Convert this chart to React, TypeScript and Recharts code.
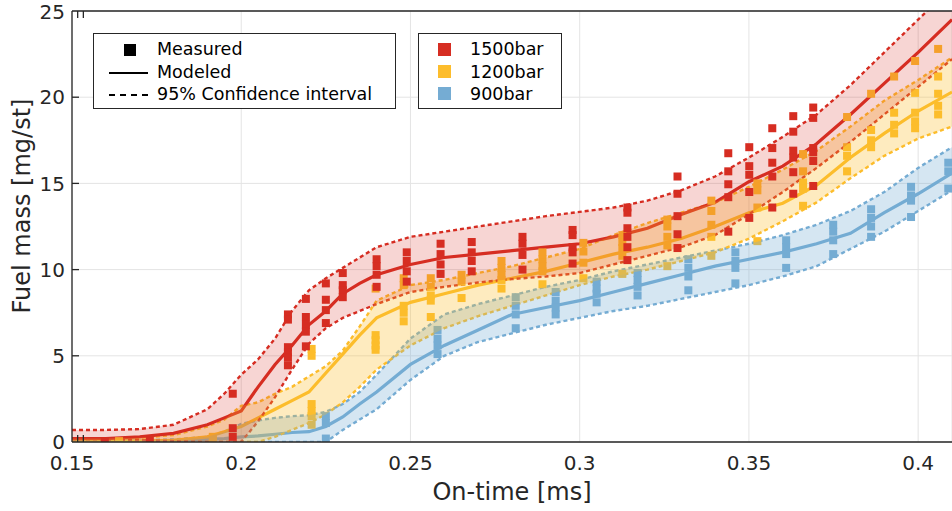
import React from 'react';
import {
    ComposedChart, Line, Area, Scatter, XAxis, YAxis, CartesianGrid,
} from 'recharts';

const RED = '#d62d22';
const YELLOW = '#fdbd2c';
const BLUE = '#75acd3';
const AXIS = '#262626';
const FONT = '"DejaVu Sans", Verdana, sans-serif';

// model grid (on-time in ms)
const xs = [0.15, 0.16, 0.17, 0.18, 0.19, 0.195, 0.2, 0.205, 0.21, 0.215, 0.22, 0.225, 0.23, 0.235, 0.24, 0.25,
    0.26, 0.27, 0.28, 0.29, 0.3, 0.31, 0.32, 0.33, 0.34, 0.35, 0.36, 0.37, 0.38, 0.39, 0.4, 0.41];

// 1500bar
const redModel = [0.2, 0.2, 0.3, 0.5, 1.0, 1.4, 1.8, 3.2, 4.5, 5.6, 6.8, 7.6, 8.6, 9.2, 9.7, 10.3,
    10.7, 10.9, 11.1, 11.3, 11.5, 11.9, 12.4, 13.2, 13.9, 15.1, 16.0, 17.3, 19.0, 20.8, 22.6, 24.5];
const redUpper = [0.7, 0.7, 0.75, 1.0, 1.9, 2.8, 3.9, 4.8, 6.0, 7.6, 8.8, 9.5, 10.1, 10.7, 11.3, 11.9,
    12.2, 12.5, 12.8, 13.1, 13.35, 13.6, 14.0, 14.6, 15.4, 16.5, 17.7, 19.0, 20.7, 22.6, 24.5, 26.4];
const redLower = [0.15, 0.15, 0.1, 0.05, 0, 0, 0, 1.2, 2.6, 4.2, 5.7, 6.6, 7.2, 7.6, 8.0, 8.7,
    9.0, 9.25, 9.45, 9.6, 9.8, 10.3, 10.8, 11.3, 12.0, 13.2, 14.5, 15.9, 17.4, 19.0, 20.6, 22.2];

// 1200bar
const yellowModel = [0.05, 0.05, 0.05, 0.1, 0.3, 0.6, 0.9, 1.4, 1.9, 2.4, 2.9, 4.0, 5.1, 6.2, 7.2, 8.1,
    8.6, 9.1, 9.5, 9.9, 10.4, 10.9, 11.3, 11.8, 12.5, 13.3, 13.85, 14.9, 16.5, 17.9, 19.2, 20.3];
const yellowUpper = [0.2, 0.2, 0.25, 0.4, 0.9, 1.3, 2.1, 2.3, 2.8, 3.2, 3.8, 4.4, 5.3, 6.7, 8.2, 9.1,
    9.4, 9.8, 10.2, 10.7, 11.2, 12.0, 12.7, 13.3, 13.9, 14.8, 15.8, 16.9, 18.3, 19.8, 21.0, 22.3];
const yellowLower = [0.05, 0.05, 0.05, 0.05, 0, 0, 0, 0, 0.3, 0.7, 1.1, 1.6, 2.3, 3.2, 4.2, 5.6,
    6.6, 7.3, 7.9, 8.5, 9.1, 9.6, 10.0, 10.5, 11.0, 11.8, 12.8, 13.9, 15.3, 16.6, 17.6, 18.3];

// 900bar
const blueModel = [0.05, 0.05, 0.05, 0.1, 0.15, 0.2, 0.3, 0.35, 0.45, 0.55, 0.6, 0.9, 1.45, 2.2, 2.9, 4.5,
    5.6, 6.5, 7.4, 7.8, 8.2, 8.7, 9.2, 9.7, 10.2, 10.6, 11.0, 11.5, 12.1, 13.3, 14.4, 15.6];
const blueUpper = [0.1, 0.1, 0.1, 0.15, 0.3, 0.6, 1.05, 1.25, 1.4, 1.5, 1.55, 1.75, 2.2, 2.9, 3.9, 6.0,
    7.4, 8.0, 8.5, 9.0, 9.4, 9.9, 10.3, 10.7, 11.1, 11.5, 12.0, 12.6, 13.4, 14.5, 15.9, 17.1];
const blueLower = [0, 0, 0, 0, 0, 0, 0, 0, 0, 0, 0, 0, 0.7, 1.3, 1.9, 3.6,
    5.0, 5.8, 6.3, 6.8, 7.2, 7.6, 7.9, 8.3, 8.7, 9.1, 9.6, 10.2, 11.2, 12.2, 13.4, 14.6];

// measured points: on-time columns and the values measured at each
const redX = [0.1597, 0.173, 0.1975, 0.2138, 0.2191, 0.225, 0.23, 0.24, 0.2489, 0.2589, 0.2681, 0.2831,
    0.2979, 0.3141, 0.3289, 0.3439, 0.3501, 0.3569, 0.3631, 0.369];
const redY = [
    [0.05], [0.1], [2.8, 0.8, 0.3], [7.4, 7.1, 5.5, 5.2, 4.9, 4.45], [8.3, 7.25, 6.8, 6.4, 5.55],
    [9.2, 8.25, 7.65, 6.9], [9.8, 9.1, 8.8, 8.4], [10.6, 10.2, 9.7, 9.0], [11.0, 10.5, 9.9, 9.3],
    [11.5, 10.9, 10.3, 9.75], [11.6, 11.0, 10.5, 9.9], [11.9, 11.5, 10.85, 10.0],
    [12.3, 12.0, 11.3, 11.0, 10.35], [13.6, 13.3, 12.4, 11.9, 11.3, 10.55], [15.4, 14.4, 13.1, 12.05, 11.25],
    [16.75, 15.7, 14.95, 14.2, 12.2], [17.1, 16.0, 15.5, 14.5, 13.0], [18.2, 17.05, 16.2, 15.4, 13.6],
    [18.9, 18.0, 16.9, 16.5, 15.65, 14.4], [19.4, 18.8, 17.05, 16.8, 16.3, 14.85],
];

const yellowX = [0.1639, 0.1916, 0.2208, 0.2397, 0.248, 0.256, 0.2651, 0.2769, 0.289, 0.3011, 0.3126,
    0.3259, 0.3389, 0.3525, 0.366, 0.379, 0.3861, 0.3929, 0.3991, 0.4059];
const yellowY = [
    [0.05], [0.1, 0.3], [5.4, 5.0, 2.2, 1.8, 1.5, 1.0], [8.9, 6.2, 5.9, 5.6, 5.35], [9.5, 9.1, 7.9, 7.5, 7.0],
    [9.5, 9.0, 8.5, 8.2, 7.25], [9.7, 9.3, 8.35], [10.5, 10.1, 9.7, 9.4, 8.9], [11.0, 10.6, 10.2, 9.9, 9.15],
    [11.55, 11.05, 10.4, 9.5], [12.0, 11.6, 11.25, 10.8, 9.75], [12.9, 12.5, 11.9, 11.4, 10.2],
    [14.0, 13.4, 12.6, 11.9, 10.8], [15.0, 14.6, 13.6, 11.65], [16.7, 15.7, 15.05, 14.7, 13.7],
    [18.85, 17.1, 16.6, 15.7], [20.2, 18.1, 17.5, 17.1], [21.2, 19.1, 18.4, 17.9],
    [22.1, 20.25, 19.1, 18.6, 18.2], [22.8, 21.2, 20.2, 19.5, 19.0],
];

const blueX = [0.225, 0.258, 0.2811, 0.2929, 0.305, 0.3171, 0.3321, 0.346, 0.361, 0.3749, 0.3861, 0.3979, 0.4089];
const blueY = [
    [1.5, 1.1, 0.2], [6.5, 6.0, 5.6, 5.1], [8.4, 7.9, 7.4, 6.6], [8.7, 8.2, 7.8, 7.4], [9.3, 8.9, 8.6, 8.1],
    [9.8, 9.4, 9.0, 8.5], [10.6, 10.1, 9.6, 8.8], [11.0, 10.5, 10.1, 9.2], [11.7, 11.3, 10.9, 10.1],
    [12.6, 12.2, 11.7, 10.9], [13.5, 13.0, 12.5, 11.9], [14.8, 14.3, 14.0, 13.05], [16.2, 15.7, 14.7],
];

const xTicks = [0.15, 0.2, 0.25, 0.3, 0.35, 0.4];
const yTicks = [0, 5, 10, 15, 20, 25];
const innerXTicks = [0.2, 0.25, 0.3, 0.35, 0.4];
const innerYTicks = [5, 10, 15, 20];

const rows = xs.map((x, i) => ({
    x,
    rm: redModel[i], ru: redUpper[i], rl: redLower[i], rBand: [redLower[i], redUpper[i]],
    ym: yellowModel[i], yu: yellowUpper[i], yl: yellowLower[i], yBand: [yellowLower[i], yellowUpper[i]],
    bm: blueModel[i], bu: blueUpper[i], bl: blueLower[i], bBand: [blueLower[i], blueUpper[i]],
}));

const toPoints = (colX: number[], colY: number[][]) =>
    colX.flatMap((x, i) => colY[i].map((y) => ({ x, y })));

const redPts = toPoints(redX, redY);
const yellowPts = toPoints(yellowX, yellowY);
const bluePts = toPoints(blueX, blueY);

const square = (color: string) => (props: any) => (
    <rect x={props.cx - 4} y={props.cy - 4} width={8} height={8} fill={color} />
);

const tickStyle = { fill: AXIS, fontSize: 20, fontFamily: FONT };

const YLabel = () => (
    <text x={22} y={206} transform="rotate(-90 22 206)" textAnchor="middle" dominantBaseline="central"
        fontSize={24} fontFamily={FONT} fill={AXIS}>
        Fuel mass [mg/st]
    </text>
);

const legendText: React.CSSProperties = {
    position: 'absolute', fontSize: 17.5, fontFamily: FONT, color: '#000', lineHeight: '20px',
};

const App = () => {
    const modelLine = (key: string, color: string) => (
        <Line key={key} dataKey={key} type="linear" stroke={color} strokeWidth={3.2} dot={false}
            activeDot={false} isAnimationActive={false} zIndex={100} />
    );
    const boundLine = (key: string, color: string) => (
        <Line key={key} dataKey={key} type="linear" stroke={color} strokeWidth={2.4} strokeDasharray="4 3"
            dot={false} activeDot={false} isAnimationActive={false} zIndex={100} />
    );
    const band = (key: string, color: string, opacity: number) => (
        <Area key={key} dataKey={key} type="linear" stroke="none" fill={color} fillOpacity={opacity}
            dot={false} activeDot={false} isAnimationActive={false} zIndex={200} />
    );

    return (
        <div style={{ position: 'fixed', left: 0, top: 0, width: 952, height: 511, overflow: 'hidden', background: '#fff' }}>
            <ComposedChart width={952} height={511} data={rows} margin={{ top: 11, right: 0, bottom: 0, left: 0 }}>
                <CartesianGrid stroke="#e4e4e4" strokeWidth={1} />
                <XAxis type="number" dataKey="x" domain={[0.15, 0.41]} ticks={xTicks} allowDataOverflow
                    tickLine={false} tickSize={0} tickMargin={14} height={69}
                    axisLine={{ stroke: AXIS, strokeWidth: 1.3 }} tick={tickStyle}
                    label={{ value: 'On-time [ms]', position: 'insideBottom', offset: 11, fontSize: 24, fill: AXIS, fontFamily: FONT }} />
                <XAxis xAxisId="top" orientation="top" mirror type="number" domain={[0.15, 0.41]} ticks={innerXTicks}
                    allowDataOverflow tickSize={7} tickFormatter={() => ''} axisLine={{ stroke: AXIS, strokeWidth: 1.3 }}
                    tickLine={{ stroke: AXIS, strokeWidth: 1.3 }} />
                <XAxis xAxisId="bottomTicks" orientation="bottom" mirror type="number" domain={[0.15, 0.41]} ticks={innerXTicks}
                    allowDataOverflow tickSize={7} tickFormatter={() => ''} axisLine={false}
                    tickLine={{ stroke: AXIS, strokeWidth: 1.3 }} />
                <YAxis type="number" domain={[0, 25]} ticks={yTicks} allowDataOverflow width={72}
                    tickLine={false} tickSize={0} tickMargin={7}
                    axisLine={{ stroke: AXIS, strokeWidth: 1.3 }} tick={tickStyle} label={<YLabel />} />
                <YAxis yAxisId="leftTicks" orientation="left" mirror type="number" domain={[0, 25]} ticks={innerYTicks}
                    allowDataOverflow tickSize={7} tickFormatter={() => ''} axisLine={false}
                    tickLine={{ stroke: AXIS, strokeWidth: 1.3 }} />
                <YAxis yAxisId="rightTicks" orientation="right" mirror width={0} type="number" domain={[0, 25]} ticks={innerYTicks}
                    allowDataOverflow tickSize={7} tickFormatter={() => ''} axisLine={false}
                    tickLine={{ stroke: AXIS, strokeWidth: 1.3 }} />

                {boundLine('bu', BLUE)}
                {boundLine('bl', BLUE)}
                {modelLine('bm', BLUE)}
                {boundLine('yu', YELLOW)}
                {boundLine('yl', YELLOW)}
                {modelLine('ym', YELLOW)}
                {boundLine('ru', RED)}
                {boundLine('rl', RED)}
                {modelLine('rm', RED)}

                <Scatter data={bluePts} dataKey="y" shape={square(BLUE)} isAnimationActive={false} zIndex={150} />
                <Scatter data={yellowPts} dataKey="y" shape={square(YELLOW)} isAnimationActive={false} zIndex={150} />

                {band('bBand', BLUE, 0.3)}
                {band('yBand', YELLOW, 0.3)}
                {band('rBand', RED, 0.2)}

                <Scatter data={redPts} dataKey="y" shape={square(RED)} isAnimationActive={false} zIndex={250} />
            </ComposedChart>

            <div style={{ position: 'absolute', left: 93, top: 33, width: 303, height: 76, boxSizing: 'border-box', border: `1.3px solid ${AXIS}`, background: '#fff' }}>
                <div style={{ position: 'absolute', left: 30, top: 10, width: 12, height: 12, background: '#000' }} />
                <div style={{ position: 'absolute', left: 15, top: 38, width: 39, borderTop: '2px solid #000' }} />
                <div style={{ position: 'absolute', left: 15, top: 60, width: 39, borderTop: '2px dashed #000' }} />
                <div style={{ ...legendText, left: 63, top: 5 }}>Measured</div>
                <div style={{ ...legendText, left: 63, top: 28 }}>Modeled</div>
                <div style={{ ...legendText, left: 63, top: 50 }}>95% Confidence interval</div>
            </div>
            <div style={{ position: 'absolute', left: 418, top: 33, width: 144, height: 76, boxSizing: 'border-box', border: `1.3px solid ${AXIS}`, background: '#fff' }}>
                <div style={{ position: 'absolute', left: 19, top: 9, width: 13, height: 13, background: RED }} />
                <div style={{ position: 'absolute', left: 19, top: 31, width: 13, height: 13, background: YELLOW }} />
                <div style={{ position: 'absolute', left: 19, top: 53, width: 13, height: 13, background: BLUE }} />
                <div style={{ ...legendText, left: 51, top: 5 }}>1500bar</div>
                <div style={{ ...legendText, left: 51, top: 28 }}>1200bar</div>
                <div style={{ ...legendText, left: 51, top: 50 }}>900bar</div>
            </div>
        </div>
    );
};

export default App;
